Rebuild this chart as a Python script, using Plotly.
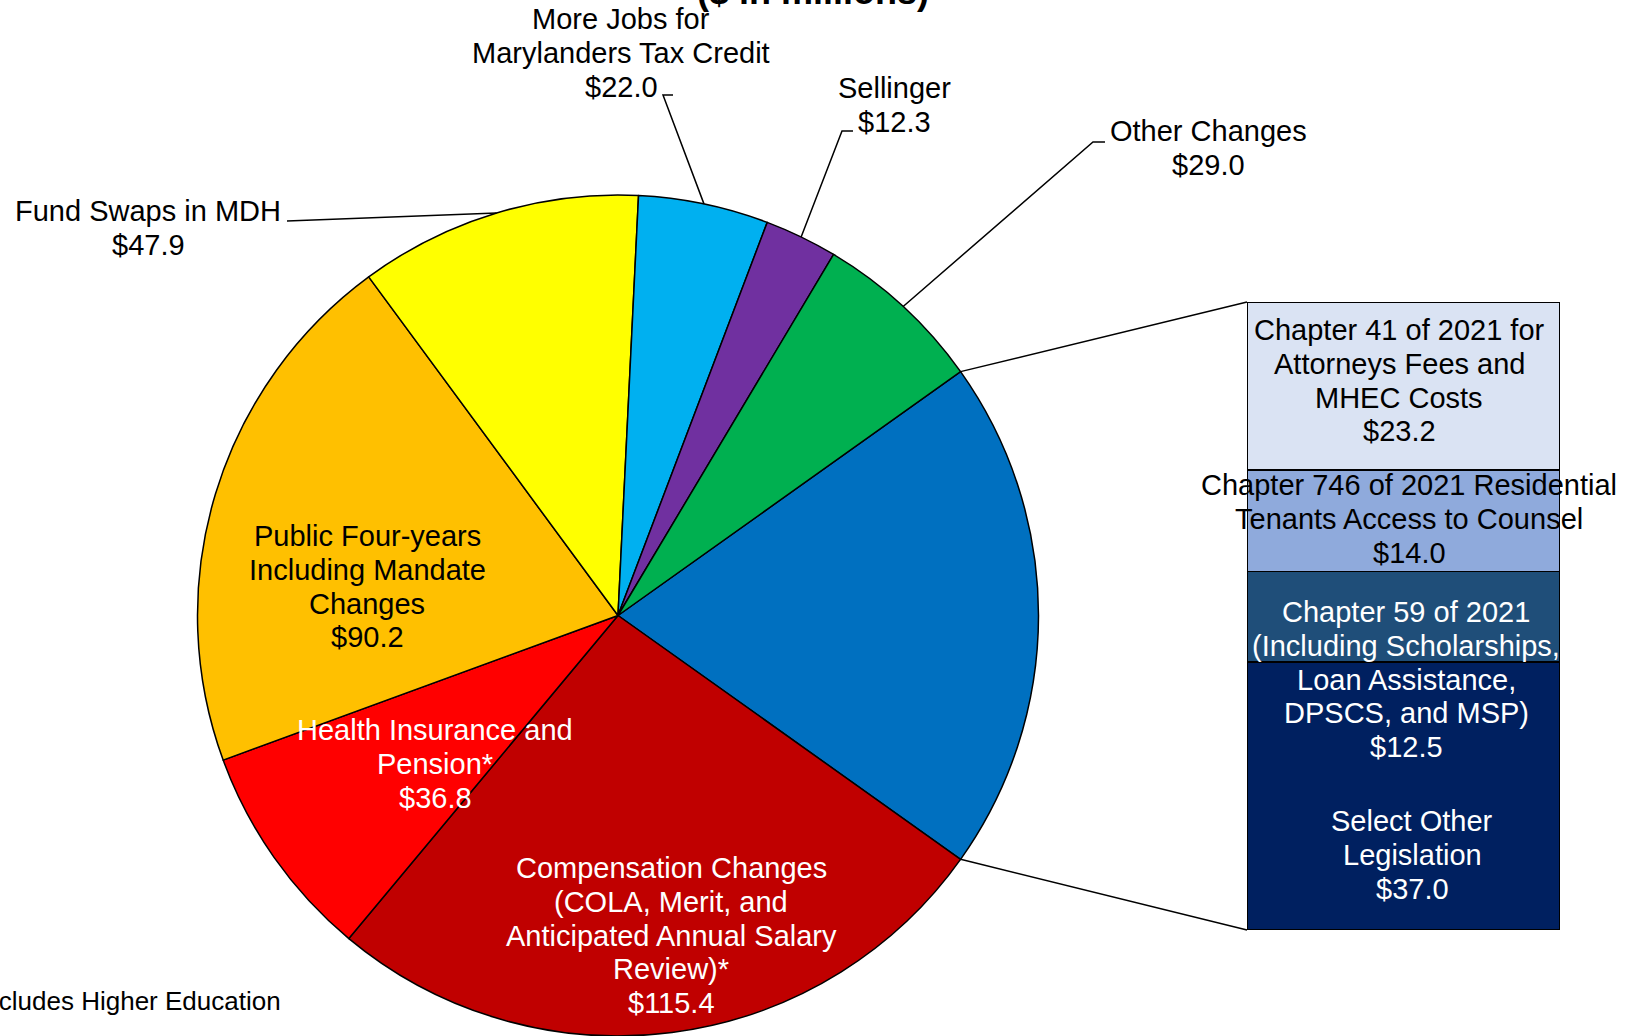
import math

import plotly.graph_objects as go

W, H = 1629, 1036
FONT = "Liberation Sans, Arial, sans-serif"

# Pie slices (clockwise after the broken-out legislation slice)
pie_names = [
    "Compensation Changes<br>(COLA, Merit, and<br>Anticipated Annual Salary<br>Review)*",
    "Health Insurance and<br>Pension*",
    "Public Four-years<br>Including Mandate<br>Changes",
    "Fund Swaps in MDH",
    "More Jobs for<br>Marylanders Tax Credit",
    "Sellinger",
    "Other Changes",
]
pie_values = [115.4, 36.8, 90.2, 47.9, 22.0, 12.3, 29.0]
pie_colors = ["#C00000", "#FF0000", "#FFC000", "#FFFF00", "#00B0F0", "#7030A0", "#00B050"]

# Breakout bar (stacked bottom to top)
bar_names = [
    "Select Other<br>Legislation",
    "Chapter 59 of 2021<br>(Including Scholarships,<br>Loan Assistance,<br>DPSCS, and MSP)",
    "Chapter 746 of 2021 Residential<br>Tenants Access to Counsel",
    "Chapter 41 of 2021 for<br>Attorneys Fees and<br>MHEC Costs",
]
bar_values = [37.0, 12.5, 14.0, 23.2]
bar_colors = ["#002060", "#1F4E79", "#8FAADC", "#DAE3F3"]
LEG_COLOR = "#0070C0"


def px(x):
    return x / W


def py(y):
    return 1 - y / H


# geometry (pixels)
CX, CY, R = 618, 615.5, 420.5
BAR_L, BAR_R, BAR_T, BAR_B = 1247, 1560, 302, 930

leg_total = sum(bar_values)
all_values = [leg_total] + pie_values
total = sum(all_values)
leg_deg = leg_total / total * 360
rotation = 90 - leg_deg / 2

fig = go.Figure()
fig.add_trace(go.Pie(
    labels=["Select Legislation"] + [n.replace("<br>", " ") for n in pie_names],
    values=all_values,
    sort=False,
    direction="clockwise",
    rotation=rotation,
    marker=dict(colors=[LEG_COLOR] + pie_colors, line=dict(color="black", width=1.5)),
    textinfo="none",
    hoverinfo="label+value",
    showlegend=False,
    domain=dict(x=[px(CX - R), px(CX + R)], y=[0, py(CY - R)]),
))

for name, val, col in zip(bar_names, bar_values, bar_colors):
    fig.add_trace(go.Bar(
        x=[0], y=[val], width=[1],
        marker=dict(color=col, line=dict(color="black", width=1.5)),
        name=name.replace("<br>", " "),
        hovertemplate="%{y:.1f}<extra>%{fullData.name}</extra>",
        showlegend=False,
        xaxis="x", yaxis="y",
    ))


def slice_point(i, frac=0.5):
    """Point on the pie rim for slice i (0 = legislation)."""
    start = rotation + sum(all_values[:i]) / total * 360
    a = math.radians(start + all_values[i] / total * 360 * frac)
    return CX + R * math.sin(a), CY - R * math.cos(a)


def path(points):
    return "M " + " L ".join(f"{px(x):.5f},{py(y):.5f}" for x, y in points)


shapes = []
# connectors from the legislation slice to the bar
x0, y0 = slice_point(0, 0.0)
x1, y1 = slice_point(0, 1.0)
shapes.append(dict(type="path", path=path([(x0, y0), (BAR_L, BAR_T)])))
shapes.append(dict(type="path", path=path([(x1, y1), (BAR_L, BAR_B)])))
# leader lines (slice index -> elbow points)
leaders = {
    4: [(287, 221)],
    5: [(673, 95), (663, 95)],
    6: [(853, 131), (842, 131)],
    7: [(1105, 142), (1093, 142)],
}
for i, pts in leaders.items():
    shapes.append(dict(type="path", path=path(pts + [slice_point(i)])))
for s in shapes:
    s.update(xref="paper", yref="paper", line=dict(color="black", width=1.5))

# label anchors: (center x, first line y, colour)
pie_label_pos = [
    (671, 868, "white"),
    (435, 730, "white"),
    (367, 536, "black"),
    (148, 211, "black"),
    (621, 19, "black"),
    (894, 88, "black"),
    (1208, 131, "black"),
]
bar_label_pos = [
    (1412, 821, "white"),
    (1406, 612, "white"),
    (1409, 485, "black"),
    (1399, 330, "black"),
]
LINE = 33.8

annotations = []


def add_label(name, val, pos):
    x, y, col = pos
    lines = name.split("<br>") + [f"${val:.1f}"]
    for k, line in enumerate(lines):
        annotations.append(dict(
            text=line, x=px(x), y=py(y + k * LINE), xref="paper", yref="paper",
            xanchor="center", yanchor="middle", showarrow=False,
            font=dict(family=FONT, size=29, color=col),
        ))


for n, v, p in zip(pie_names, pie_values, pie_label_pos):
    add_label(n, v, p)
for n, v, p in zip(bar_names, bar_values, bar_label_pos):
    add_label(n, v, p)

annotations.append(dict(
    text="<b>($ in millions)</b>", x=px(813), y=py(14), xref="paper", yref="paper",
    xanchor="center", yanchor="bottom", showarrow=False,
    font=dict(family=FONT, size=36, color="black"),
))
annotations.append(dict(
    text="*Includes Higher Education", x=px(283), y=py(1001), xref="paper", yref="paper",
    xanchor="right", yanchor="middle", showarrow=False,
    font=dict(family=FONT, size=26, color="black"),
))

fig.update_layout(
    width=W, height=H,
    margin=dict(l=0, r=0, t=0, b=0),
    paper_bgcolor="white", plot_bgcolor="rgba(0,0,0,0)",
    barmode="stack",
    xaxis=dict(domain=[px(BAR_L), px(BAR_R)], range=[-0.5, 0.5], visible=False, fixedrange=True),
    yaxis=dict(domain=[py(BAR_B), py(BAR_T)], range=[0, leg_total], visible=False, fixedrange=True),
    shapes=shapes,
    annotations=annotations,
    font=dict(family=FONT),
)

# drop the browser's default body margin so the figure sits at the page corner
fig.write_html("out.html", config=dict(displayModeBar=False),
               post_script="document.body.style.margin='0';")
